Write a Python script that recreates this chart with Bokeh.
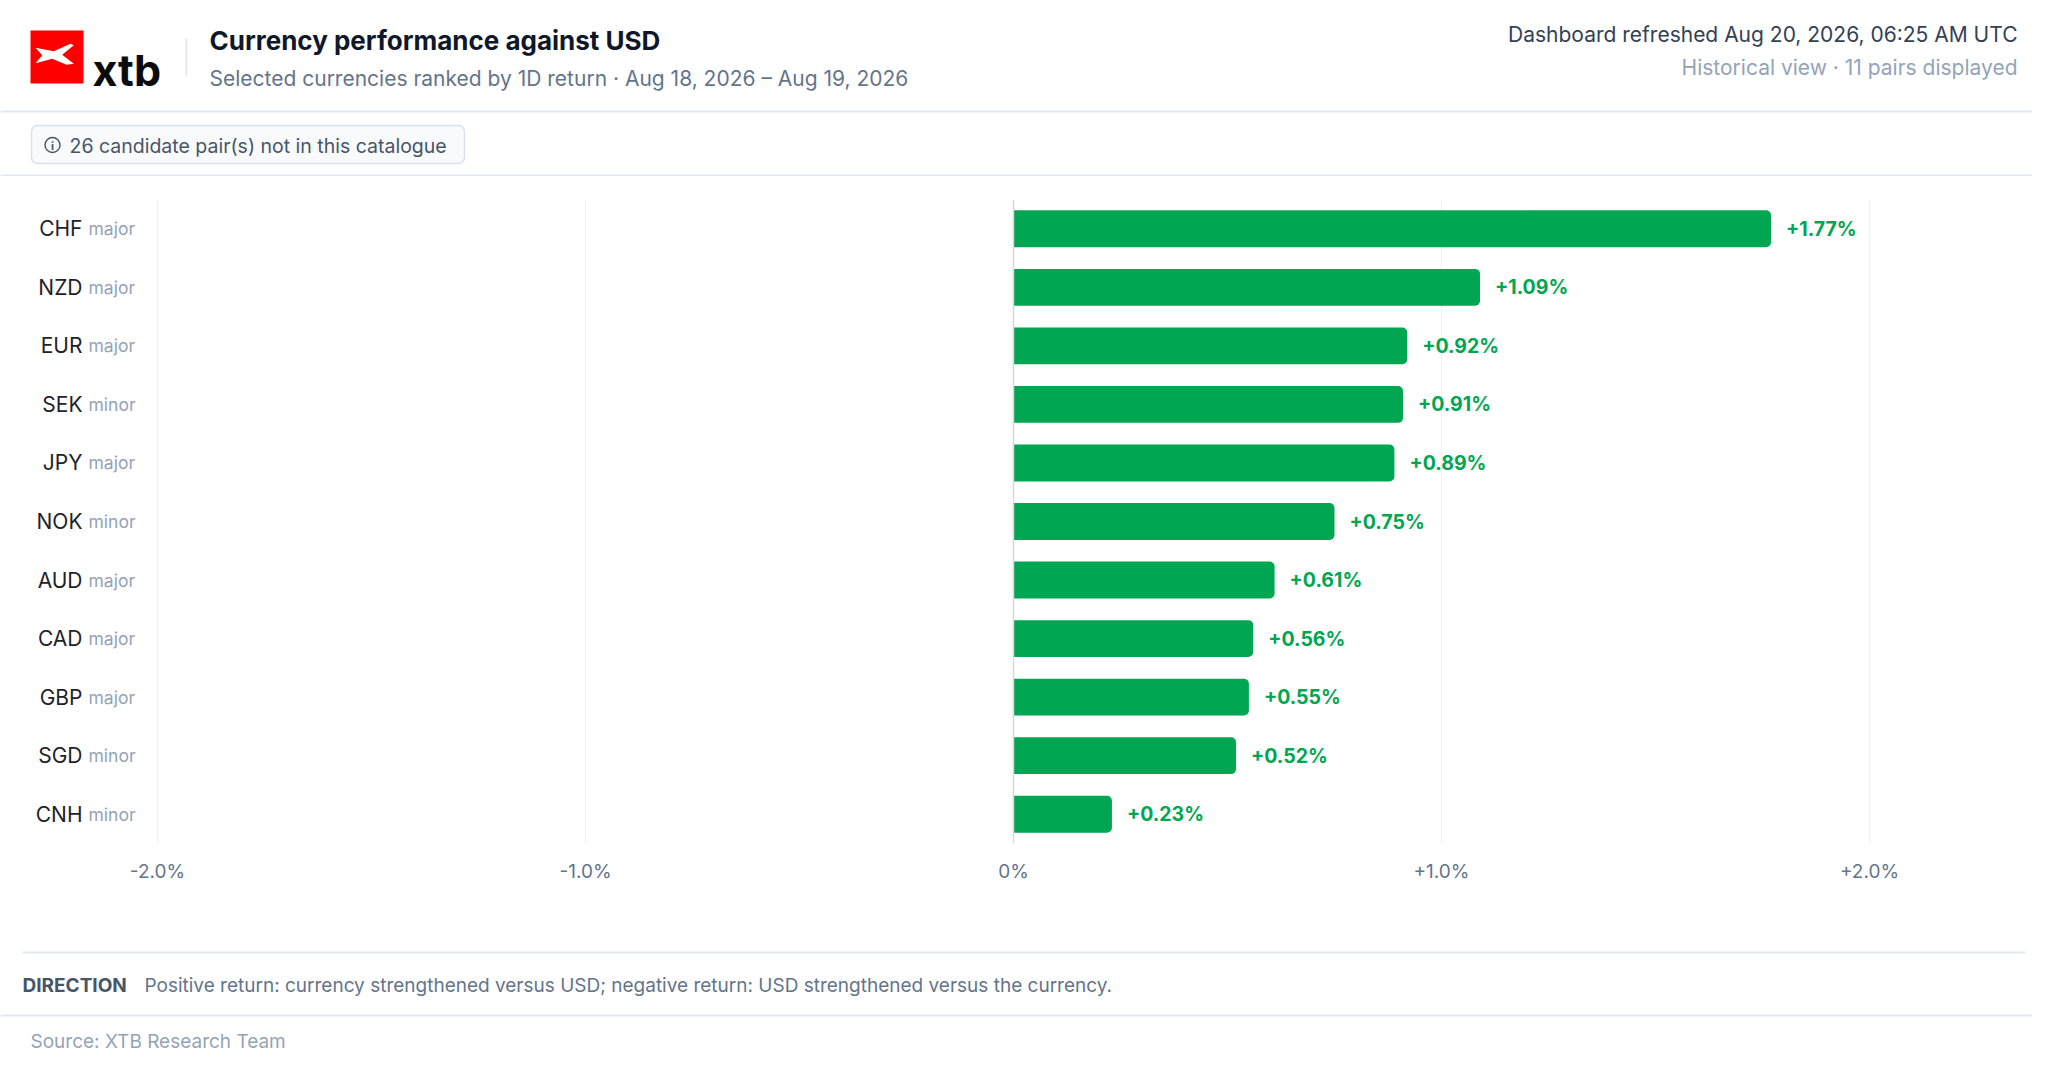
from bokeh.plotting import figure
from bokeh.layouts import column
from bokeh.models import Range1d, FixedTicker, CustomJSTickFormatter, Span, ColumnDataSource
from bokeh.core.properties import value
from bokeh.embed import file_html
from bokeh.resources import INLINE

# ---------------- data ----------------
currencies = ["CHF", "NZD", "EUR", "SEK", "JPY", "NOK", "AUD", "CAD", "GBP", "SGD", "CNH"]
tiers = ["major", "major", "major", "minor", "major", "minor", "major", "major", "major", "minor", "minor"]
returns = [1.77, 1.09, 0.92, 0.91, 0.89, 0.75, 0.61, 0.56, 0.55, 0.52, 0.23]
x_ticks = [-2.0, -1.0, 0.0, 1.0, 2.0]

title = "Currency performance against USD"
subtitle = "Selected currencies ranked by 1D return \u00b7 Aug 18, 2026 \u2013 Aug 19, 2026"
refreshed = "Dashboard refreshed Aug 20, 2026, 06:25 AM UTC"
view_note = "Historical view \u00b7 11 pairs displayed"
badge_text = "26 candidate pair(s) not in this catalogue"
direction_head = "DIRECTION"
direction_text = "Positive return: currency strengthened versus USD; negative return: USD strengthened versus the currency."
source_text = "Source: XTB Research Team"

FONT = value("Inter")
GREEN = "#00a651"
W = 2032
PAGE_L, PAGE_R = 0, W


def fs(px):
    return value(f"{px}px")


def blank(height, top):
    p = figure(frame_width=W, frame_height=height, output_backend="svg", toolbar_location=None,
               x_range=Range1d(PAGE_L, PAGE_R), y_range=Range1d(top + height, top),
               x_axis_location=None, y_axis_location=None,
               min_border=0, min_border_left=0, min_border_right=0, min_border_top=0, min_border_bottom=0)
    p.grid.visible = False
    p.outline_line_color = None
    p.background_fill_color = "white"
    p.border_fill_color = "white"
    return p


# ---------------- header ----------------
hdr = blank(176, 0)
hdr.quad(left=30, right=83, top=30, bottom=83, fill_color="#ff0000", line_color=None)
mx = [35, 53.3, 70, 73.3, 61.7, 73.3, 66, 51.7, 35, 41.7]
my = [47.3, 50.7, 43.3, 44.7, 54.3, 63.3, 64.3, 58.3, 62.7, 54.7]
hdr.patch(mx, my, fill_color="white", line_color=None)
hdr.text(x=[92], y=[69], text=["xtb"], text_font=FONT, text_font_size=fs(43), text_font_style="bold",
         text_color="#0b0b0b", text_baseline="alphabetic", text_align="left")
hdr.segment(x0=[186], y0=[38], x1=[186], y1=[75], line_color="#e2e8f0", line_width=2)
hdr.text(x=[209], y=[40], text=[title], text_font=FONT, text_font_size=fs(26), text_font_style="bold",
         text_color="#0f172a", text_baseline="middle", text_align="left")
hdr.text(x=[209], y=[78], text=[subtitle], text_font=FONT, text_font_size=fs(21),
         text_color="#64748b", text_baseline="middle", text_align="left")
hdr.text(x=[2017], y=[34], text=[refreshed], text_font=FONT, text_font_size=fs(21),
         text_color="#334155", text_baseline="middle", text_align="right")
hdr.text(x=[2017], y=[67], text=[view_note], text_font=FONT, text_font_size=fs(21),
         text_color="#94a3b8", text_baseline="middle", text_align="right")
hdr.segment(x0=[PAGE_L], y0=[111], x1=[PAGE_R], y1=[111], line_color="#e2e8f0", line_width=2)
hdr.quad(left=31, right=464, top=125, bottom=163, fill_color="#f8fafc", line_color="#d9e1ec",
         line_width=1.5, border_radius=6)
hdr.scatter(x=[52], y=[144.5], marker="circle", size=15, fill_color=None, line_color="#475569", line_width=1.4)
hdr.text(x=[52], y=[145], text=["i"], text_font=FONT, text_font_size=fs(11), text_font_style="bold",
         text_color="#475569", text_baseline="middle", text_align="center")
hdr.text(x=[69], y=[145], text=[badge_text], text_font=FONT, text_font_size=fs(19.5),
         text_color="#475569", text_baseline="middle", text_align="left")
hdr.segment(x0=[PAGE_L], y0=[175], x1=[PAGE_R], y1=[175], line_color="#e2e8f0", line_width=2)

# ---------------- chart ----------------
ZERO_PX, PX_PER_PCT = 1013, 428.0


def px2v(px):
    return (px - ZERO_PX) / PX_PER_PCT


n = len(currencies)
idx = list(range(n))
src = ColumnDataSource(dict(
    y=idx, cur=currencies, tier=tiers, ret=returns,
    lab=[("+" if r >= 0 else "") + f"{r:.2f}%" for r in returns],
    code_x=[px2v(82)] * n, tier_x=[px2v(88)] * n,
))

ch = figure(frame_width=W, frame_height=644, output_backend="svg", toolbar_location=None,
            x_range=Range1d(px2v(PAGE_L), px2v(PAGE_R)), y_range=Range1d(n - 0.5, -0.5),
            y_axis_location=None,
            min_border_left=0, min_border_right=0, min_border_top=23, min_border_bottom=107)
ch.outline_line_color = None
ch.ygrid.visible = False
ch.xgrid.ticker = FixedTicker(ticks=x_ticks)
ch.xgrid.grid_line_color = "#eef1f5"
ch.xgrid.grid_line_width = 1.2
ch.xaxis.ticker = FixedTicker(ticks=x_ticks)
ch.xaxis.formatter = CustomJSTickFormatter(
    code="return tick == 0 ? '0%' : (tick > 0 ? '+' : '') + tick.toFixed(1) + '%';")
ch.xaxis.axis_line_color = None
ch.xaxis.major_tick_line_color = None
ch.xaxis.minor_tick_line_color = None
ch.xaxis.major_tick_out = 0
ch.xaxis.major_tick_in = 0
ch.xaxis.major_label_standoff = 16
ch.xaxis.major_label_text_font = "Inter"
ch.xaxis.major_label_text_font_size = "19px"
ch.xaxis.major_label_text_color = "#64748b"

ch.add_layout(Span(location=0, dimension="height", line_color="#d3d9e2", line_width=1.5))
ch.hbar(y="y", left=0, right="ret", height=0.63, source=src, fill_color=GREEN, line_color=None,
        border_radius=(0, 5, 5, 0))
ch.text(x="ret", y="y", text="lab", source=src, x_offset=15, text_font=FONT, text_font_size=fs(19.5),
        text_font_style="bold", text_color=GREEN, text_baseline="middle", text_align="left")
ch.text(x="code_x", y="y", text="cur", source=src, text_font=FONT, text_font_size=fs(21),
        text_color="#1e2329", text_baseline="middle", text_align="right")
ch.text(x="tier_x", y="y", text="tier", source=src, text_font=FONT, text_font_size=fs(17.5),
        text_color="#94a3b8", text_baseline="middle", text_align="left")

# ---------------- footer ----------------
ft = blank(111, 950)
ft.segment(x0=[22], y0=[952], x1=[2025], y1=[952], line_color="#e2e8f0", line_width=2)
ft.text(x=[22], y=[985], text=[direction_head], text_font=FONT, text_font_size=fs(19), text_font_style="bold",
        text_color="#475569", text_baseline="middle", text_align="left")
ft.text(x=[144], y=[985], text=[direction_text], text_font=FONT, text_font_size=fs(19),
        text_color="#64748b", text_baseline="middle", text_align="left")
ft.segment(x0=[PAGE_L], y0=[1015], x1=[PAGE_R], y1=[1015], line_color="#e2e8f0", line_width=2)
ft.text(x=[30], y=[1041], text=[source_text], text_font=FONT, text_font_size=fs(19),
        text_color="#94a3b8", text_baseline="middle", text_align="left")

layout = column(hdr, ch, ft, spacing=0)
open("out.html", "w").write(file_html(layout, INLINE))
